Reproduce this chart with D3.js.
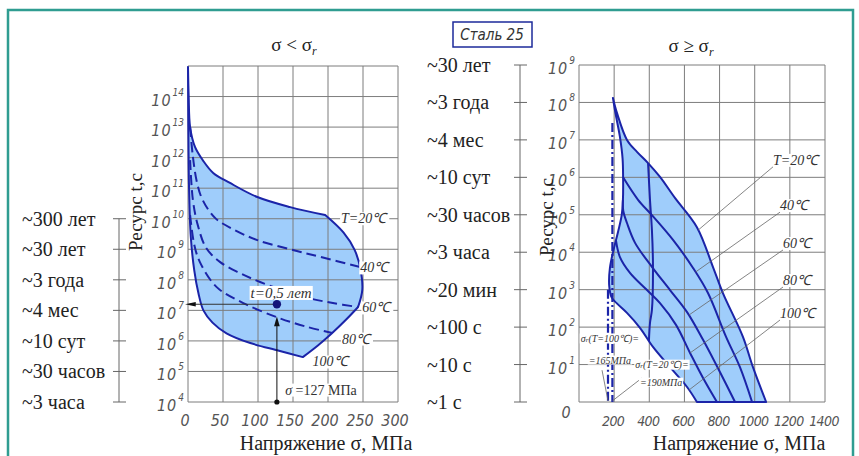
<!DOCTYPE html>
<html>
<head>
<meta charset="utf-8">
<script src="https://cdn.jsdelivr.net/npm/d3@7"></script>
<style>
  body { margin: 0; background: #fff; }
  svg { display: block; }
  .tech { font-family: 'DejaVu Sans Condensed', 'DejaVu Sans', sans-serif; font-style: italic; fill: #555; }
  .ser { font-family: 'Liberation Serif', 'Times New Roman', serif; fill: #222; }
  .iser { font-family: 'Liberation Serif', 'Times New Roman', serif; font-style: italic; fill: #333; }
</style>
</head>
<body>
<svg id="chart"></svg>
<script>
var W = 859, H = 456;

// ---- left plot, sigma < sigma_r. points are [sigma MPa, lg t]
var leftTicksX = [0, 50, 100, 150, 200, 250, 300];
var leftPowers = [4, 5, 6, 7, 8, 9, 10, 11, 12, 13, 14];
var leftOuterLabels = ["~300 лет", "~30 лет", "~3 года", "~4 мес", "~10 сут", "~30 часов", "~3 часа"];
var leftOuterPowers = [10, 9, 8, 7, 6, 5, 4];

var lT20 = [[0,14.97],[1,14.0],[3,13.0],[10,12.35],[21,11.92],[36,11.5],[60,11.17],[99,10.71],[146,10.38],[196,10.12]];
var lEdgeA = [[196,10.12],[222,9.55],[238,8.98],[246,8.39],[249,7.67],[243,7.11]];
var lEdgeB = [[243,7.11],[226,6.7],[206,6.26],[186,5.86],[164,5.47]];
var lT100 = [[164,5.47],[130,5.68],[89,5.93],[55,6.25],[35,6.6],[22,7.0],[15,7.55],[9,8.3],[4,9.4],[1.5,11],[0.5,13],[0,14.97]];
var lT40 = [[3,13.0],[7,12.03],[13,11.17],[21,10.61],[39,10.02],[64,9.66],[99,9.3],[146,9.0],[189,8.75],[246,8.42]];
var lT60 = [[3,11.92],[7,10.61],[14,9.79],[26,9.04],[46,8.58],[74,8.22],[103,7.93],[160,7.47],[207,7.24],[243,7.11]];
var lT80 = [[3,10.12],[9,9.14],[17,8.58],[41,7.76],[79,7.24],[130,6.75],[170,6.46],[206,6.26]];

var lLabels = [["T=20℃",251,10],["40℃",266,8.39],["60℃",269,7.08],["80℃",240,6.06],["100℃",203,5.31]];
var pointSigma = 127, pointLg = 7.2, arrowLg = 6.72;

// ---- right plot, sigma >= sigma_r
var rightTicksX = [200, 400, 600, 800, 1000, 1200, 1400];
var rightPowers = [1, 2, 3, 4, 5, 6, 7, 8, 9];
var midLabels = ["~30 лет","~3 года","~4 мес","~10 сут","~30 часов","~3 часа","~20 мин","~100 с","~10 с","~1 с"];
var midPowers = [9, 8, 7, 6, 5, 4, 3, 2, 1, 0];

var rT20 = [[193,8.12],[216,7.72],[273,7.0],[330,6.68],[393,6.38],[461,6.01],[546,5.45],[671,4.67],[762,3.61],[819,2.91],[933,1.74],[990,0.93],[1065,0]];
var rBase = [[1065,0],[671,0]];
var rLeft = [[671,0],[615,0.4],[518,0.93],[421,1.47],[347,1.98],[273,2.38],[214,2.64],[185,2.8],[172,3.1],[176,3.58],[199,4.11],[222,4.54],[243,4.99],[250,5.4],[251,6.0],[248,6.5],[233,7.08],[208,7.7],[193,8.12]];
var rT40 = [[251,6.0],[336,5.40],[415,4.99],[535,4.33],[649,3.58],[734,2.91],[837,1.74],[916,0.93],[985,0]];
var rT60 = [[250,5.4],[252,5.1],[273,4.78],[319,4.25],[415,3.61],[518,2.99],[615,2.40],[706,1.66],[802,0.80],[888,0]];
var rT80 = [[210,4.33],[233,3.87],[290,3.45],[387,2.99],[461,2.64],[552,2.06],[632,1.31],[706,0.64],[785,0]];
var rV = [[393,6.38],[404,5.40],[415,4.59],[421,3.61],[415,2.46],[404,2.11],[398,1.63]];
var rSr20 = [[190,7.45],[190,0]];
var rSr100 = [[165,3.0],[165,0]];

var rTempLabels = ["T=20℃","40℃","60℃","80℃","100℃"];
var rLabelAt = [[1104,6.28],[1144,5.07],[1161,4.06],[1161,3.07],[1144,2.19]];
var rLeaderEnd = [[678,4.59],[663,3.47],[625,2.32],[632,1.31],[626,0.32]];
var rSmall = [["T=100℃)=",176,1.71,true],["=165МПа",176,1.12,false],["T=20℃)=",472,1.01,true],["=190МПа",467,0.53,false]];
var rSmallLeaders = [[[131,0.85],[165,0.03]],[[358,0.64],[190,0.03]]];

var blue = "#1b24a8", fillBlue = "#9fcdfb", grid = "#7d7d7d";

var svg = d3.select("#chart").attr("width", W).attr("height", H);

// frame
svg.append("rect").attr("x", 8).attr("y", 10).attr("width", 845).attr("height", 470)
  .attr("fill", "none").attr("stroke", "#2f9d91").attr("stroke-width", 2.5);

var xL = d3.scaleLinear().domain([0, 300]).range([188, 398]);
var yL = d3.scaleLog().domain([1e4, 1e15]).range([402, 66]);
var xR = d3.scaleLinear().domain([0, 1400]).range([579, 825]);
var yR = d3.scaleLog().domain([1, 1e9]).range([402, 65]);

function lineGen(x, y) {
  return d3.line().x(d => x(d[0])).y(d => y(Math.pow(10, d[1]))).curve(d3.curveCatmullRom.alpha(0.5));
}
var lineL = lineGen(xL, yL), lineR = lineGen(xR, yR);

function outline(gen, segs) {
  return segs.map((s, i) => i ? gen(s).replace(/^M/, "L") : gen(s)).join("") + "Z";
}

function drawGrid(g, x, y, xs, pows) {
  g.selectAll(".gv").data(xs).enter().append("line")
    .attr("x1", d => x(d)).attr("x2", d => x(d))
    .attr("y1", y.range()[0]).attr("y2", y.range()[1])
    .attr("stroke", grid).attr("stroke-width", 1);
  g.selectAll(".gh").data(pows).enter().append("line")
    .attr("x1", x.range()[0]).attr("x2", x.range()[1])
    .attr("y1", d => y(Math.pow(10, d))).attr("y2", d => y(Math.pow(10, d)))
    .attr("stroke", grid).attr("stroke-width", 1);
}

function powLabels(g, x, y, pows) {
  var t = g.selectAll(".pl").data(pows).enter().append("text").attr("class", "tech")
    .attr("font-size", 16).attr("text-anchor", "end")
    .attr("x", x.range()[0] - 4).attr("y", d => y(Math.pow(10, d)) + 9);
  t.append("tspan").attr("letter-spacing", 1).text("10");
  t.append("tspan").attr("font-size", 10).attr("dx", 1).attr("dy", -10).text(d => d);
}

function outerAxis(g, xLine, y, pows, labels, xText) {
  g.append("line").attr("x1", xLine).attr("x2", xLine)
    .attr("y1", y(Math.pow(10, d3.max(pows)))).attr("y2", y(Math.pow(10, d3.min(pows))))
    .attr("stroke", "#666");
  g.selectAll(".tk").data(pows).enter().append("line")
    .attr("x1", xLine - 6).attr("x2", xLine + 7)
    .attr("y1", d => y(Math.pow(10, d))).attr("y2", d => y(Math.pow(10, d)))
    .attr("stroke", "#666");
  g.selectAll(".ot").data(pows).enter().append("text").attr("class", "ser")
    .attr("font-size", 20).attr("x", xText)
    .attr("y", d => y(Math.pow(10, d))).attr("dominant-baseline", "central")
    .text((d, i) => labels[i]);
}

function whiteTag(g, x, y, size, build) {
  var t = g.append("text").attr("class", "iser").attr("font-size", size)
    .attr("x", x).attr("y", y).attr("text-anchor", "middle").attr("dominant-baseline", "central");
  build(t);
  var b = t.node().getBBox();
  g.insert("rect", function () { return t.node(); })
    .attr("x", b.x - 1).attr("y", b.y + 1).attr("width", b.width + 2).attr("height", b.height - 2)
    .attr("fill", "#fff");
  return t;
}

// ===== left plot =====
var gl = svg.append("g");
gl.append("path").attr("d", outline(lineL, [lT20, lEdgeA, lEdgeB, lT100]))
  .attr("fill", fillBlue).attr("stroke", "none");
drawGrid(gl, xL, yL, leftTicksX, d3.range(4, 16));
gl.append("path").attr("d", outline(lineL, [lT20, lEdgeA, lEdgeB, lT100]))
  .attr("fill", "none").attr("stroke", blue).attr("stroke-width", 2).attr("stroke-linejoin", "round");
[lT40, lT60, lT80].forEach(function (c) {
  gl.append("path").attr("d", lineL(c)).attr("fill", "none")
    .attr("stroke", blue).attr("stroke-width", 2).attr("stroke-dasharray", "10,5");
});
powLabels(gl, xL, yL, leftPowers);
gl.selectAll(".xl").data(leftTicksX).enter().append("text").attr("class", "tech")
  .attr("font-size", 16).attr("text-anchor", "middle")
  .attr("x", d => xL(d) - 3).attr("y", 426).text(d => d);

lLabels.forEach(function (d) {
  whiteTag(gl, xL(d[1]), yL(Math.pow(10, d[2])), 14, t => t.text(d[0]));
});

// marked point t = 0.5 years at sigma = 127 MPa
var px = xL(pointSigma), py = yL(Math.pow(10, pointLg));
gl.append("line").attr("x1", px).attr("x2", px).attr("y1", yL(1e4)).attr("y2", yL(Math.pow(10, arrowLg)) + 6)
  .attr("stroke", "#111").attr("stroke-width", 1);
gl.append("path").attr("d", d3.symbol(d3.symbolTriangle, 28))
  .attr("transform", "translate(" + px + "," + (yL(Math.pow(10, arrowLg)) + 4) + ") scale(0.7,1.4)").attr("fill", "#111");
gl.append("line").attr("x1", px).attr("x2", xL(2)).attr("y1", py).attr("y2", py)
  .attr("stroke", "#333").attr("stroke-width", 1);
gl.append("path").attr("d", d3.symbol(d3.symbolTriangle, 26))
  .attr("transform", "translate(" + xL(6) + "," + py + ") rotate(-90) scale(0.6,1.6)").attr("fill", "#111");
gl.append("circle").attr("cx", px).attr("cy", yL(1e4)).attr("r", 2.6).attr("fill", "#111");
whiteTag(gl, xL(133), yL(Math.pow(10, 7.57)), 15, t => t.text("t=0,5 лет"));
gl.append("circle").attr("cx", px).attr("cy", py).attr("r", 4.2).attr("fill", "#14147a");
whiteTag(gl, xL(190), yL(Math.pow(10, 4.39)), 14, function (t) {
  t.style("font-style", "normal");
  t.append("tspan").style("font-style", "italic").text("σ");
  t.append("tspan").text(" =127 МПа");
});

outerAxis(svg.append("g"), 119, yL, leftOuterPowers, leftOuterLabels, 22);

svg.append("text").attr("class", "ser").attr("font-size", 19)
  .attr("transform", "translate(142,212) rotate(-90)").attr("text-anchor", "middle").text("Ресурс t,c");
svg.append("text").attr("class", "ser").attr("font-size", 20)
  .attr("x", 326).attr("y", 450).attr("text-anchor", "middle").text("Напряжение σ, МПа");
var t1 = svg.append("text").attr("class", "ser").attr("font-size", 19)
  .attr("x", 294).attr("y", 51).attr("text-anchor", "middle");
t1.append("tspan").text("σ < σ");
t1.append("tspan").attr("font-size", 12).style("font-style", "italic").attr("dy", 4).text("r");

// ===== middle axis =====
outerAxis(svg.append("g"), 520, yR, midPowers, midLabels, 427);

var box = svg.append("g");
box.append("rect").attr("x", 453).attr("y", 22).attr("width", 79).attr("height", 25)
  .attr("fill", "#fff").attr("stroke", "#1d2a9a").attr("stroke-width", 1.5);
box.append("text").attr("class", "tech").attr("font-size", 15).style("fill", "#333")
  .attr("x", 492).attr("y", 40).attr("text-anchor", "middle").text("Сталь 25");

// ===== right plot =====
var gr = svg.append("g");
gr.append("path").attr("d", outline(lineR, [rT20, rBase, rLeft]))
  .attr("fill", fillBlue).attr("stroke", "none");
drawGrid(gr, xR, yR, [0].concat(rightTicksX), d3.range(0, 10));
gr.append("path").attr("d", outline(lineR, [rT20, rBase, rLeft]))
  .attr("fill", "none").attr("stroke", blue).attr("stroke-width", 2).attr("stroke-linejoin", "round");
[rT40, rT60, rT80, rV].forEach(function (c) {
  gr.append("path").attr("d", lineR(c)).attr("fill", "none")
    .attr("stroke", blue).attr("stroke-width", 2);
});
[rSr20, rSr100].forEach(function (c) {
  gr.append("path").attr("d", lineR(c)).attr("fill", "none")
    .attr("stroke", blue).attr("stroke-width", 2.2).attr("stroke-dasharray", "9,3,2,3");
});
powLabels(gr, xR, yR, rightPowers);
gr.append("text").attr("class", "tech").attr("font-size", 16).attr("text-anchor", "middle")
  .attr("x", 566).attr("y", yR(1) + 16).text("0");
gr.selectAll(".xr").data(rightTicksX).enter().append("text").attr("class", "tech")
  .attr("font-size", 14).attr("letter-spacing", -0.6).attr("text-anchor", "middle")
  .attr("x", d => xR(d) - 1).attr("y", 426).text(d => d);

// temperature leaders
rTempLabels.forEach(function (s, i) {
  var a = rLabelAt[i], e = rLeaderEnd[i];
  gr.append("line").attr("x1", xR(a[0])).attr("y1", yR(Math.pow(10, a[1])))
    .attr("x2", xR(e[0])).attr("y2", yR(Math.pow(10, e[1])))
    .attr("stroke", "#666").attr("stroke-width", 0.8);
  var tx = gr.append("text").attr("class", "iser").attr("font-size", 14)
    .attr("x", xR(a[0])).attr("y", yR(Math.pow(10, a[1])) - 2).text(s);
  var b = tx.node().getBBox();
  gr.insert("rect", function () { return tx.node(); })
    .attr("x", b.x).attr("y", b.y + 1).attr("width", b.width).attr("height", b.height - 2).attr("fill", "#fff");
});

rSmallLeaders.forEach(function (l) {
  gr.append("line").attr("x1", xR(l[0][0])).attr("y1", yR(Math.pow(10, l[0][1])))
    .attr("x2", xR(l[1][0])).attr("y2", yR(Math.pow(10, l[1][1])))
    .attr("stroke", "#666").attr("stroke-width", 0.8);
});
rSmall.forEach(function (d) {
  whiteTag(gr, xR(d[1]), yR(Math.pow(10, d[2])), 10, function (t) {
    if (d[3]) {
      t.append("tspan").text("σ");
      t.append("tspan").attr("font-size", 7).attr("dy", 2).text("r");
      t.append("tspan").attr("dy", -2).text("(" + d[0]);
    } else {
      t.text(d[0]);
    }
  });
});

svg.append("text").attr("class", "ser").attr("font-size", 19)
  .attr("transform", "translate(553,217) rotate(-90)").attr("text-anchor", "middle").text("Ресурс t,c");
svg.append("text").attr("class", "ser").attr("font-size", 20)
  .attr("x", 739).attr("y", 450).attr("text-anchor", "middle").text("Напряжение σ, МПа");
var t2 = svg.append("text").attr("class", "ser").attr("font-size", 19)
  .attr("x", 691).attr("y", 52).attr("text-anchor", "middle");
t2.append("tspan").text("σ ≥ σ");
t2.append("tspan").attr("font-size", 12).style("font-style", "italic").attr("dy", 4).text("r");
</script>
</body>
</html>
